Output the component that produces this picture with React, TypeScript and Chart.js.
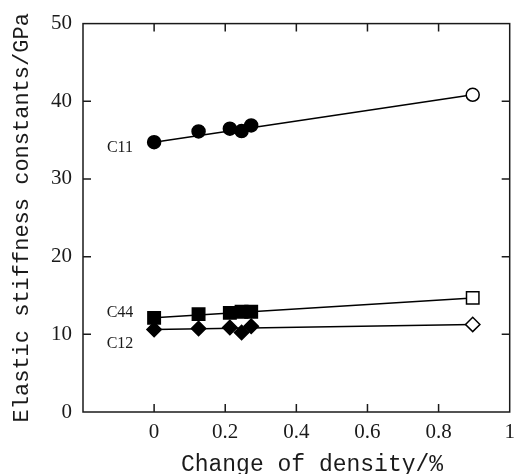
import React, { useEffect, useRef } from 'react';
import { Chart, registerables } from 'chart.js';
Chart.register(...registerables);

// Data
const densityChange = [0, 0.125, 0.213, 0.246, 0.273, 0.896];
const c11 = [34.74, 36.12, 36.47, 36.16, 36.89, 40.84];
const c44 = [12.12, 12.6, 12.76, 12.9, 12.9, 14.69];
const c12 = [10.63, 10.76, 10.89, 10.24, 11.05, 11.27];
const fitX = [0, 0.896];
const c11Fit = [34.74, 40.84];
const c44Fit = [12.12, 14.69];
const c12Fit = [10.63, 11.27];
const xTicks = [0, 0.2, 0.4, 0.6, 0.8, 1];
const yTicks = [0, 10, 20, 30, 40, 50];
const seriesLabels = ['C11', 'C44', 'C12'];
const labelAnchorX = -0.096;
const labelAnchorY = [34.06, 12.72, 8.78];
const xTitle = 'Change of density/%';
const yTitle = 'Elastic stiffness constants/GPa';

const MONO = '"Liberation Mono", "DejaVu Sans Mono", monospace';
const SERIF = '"Liberation Serif", "DejaVu Serif", serif';
const INK = '#1a1a1a';

const pts = (xs: number[], ys: number[]) => xs.map((x, i) => ({ x, y: ys[i] }));
const last = densityChange.length - 1;
const fill = (ctx: any) => (ctx.dataIndex === last ? '#ffffff' : '#000000');
const fmtX = (v: number) => String(Math.round(v * 10) / 10);

const framePlugin = {
  id: 'frame',
  afterDraw(chart: any) {
    const { ctx, chartArea: a, scales } = chart;
    const xs = scales.x;
    const ys = scales.y;
    ctx.save();
    ctx.strokeStyle = INK;
    ctx.lineWidth = 1.5;
    ctx.strokeRect(a.left, a.top, a.right - a.left, a.bottom - a.top);
    const tl = 8;
    ctx.beginPath();
    xTicks.forEach((v) => {
      const px = xs.getPixelForValue(v);
      if (px <= a.left + 1 || px >= a.right - 1) return;
      ctx.moveTo(px, a.bottom);
      ctx.lineTo(px, a.bottom - tl);
      ctx.moveTo(px, a.top);
      ctx.lineTo(px, a.top + tl);
    });
    yTicks.forEach((v) => {
      const py = ys.getPixelForValue(v);
      if (py <= a.top + 1 || py >= a.bottom - 1) return;
      ctx.moveTo(a.left, py);
      ctx.lineTo(a.left + tl, py);
      ctx.moveTo(a.right, py);
      ctx.lineTo(a.right - tl, py);
    });
    ctx.stroke();
    ctx.fillStyle = INK;
    // x tick labels
    ctx.font = `21px ${SERIF}`;
    ctx.textAlign = 'center';
    ctx.textBaseline = 'middle';
    xTicks.forEach((v) => {
      ctx.fillText(fmtX(v), xs.getPixelForValue(v), a.bottom + 20);
    });
    // series labels
    ctx.font = `16px ${SERIF}`;
    seriesLabels.forEach((t, i) => {
      ctx.fillText(t, xs.getPixelForValue(labelAnchorX), ys.getPixelForValue(labelAnchorY[i]));
    });
    // x axis title
    ctx.font = `23px ${MONO}`;
    ctx.textBaseline = 'alphabetic';
    ctx.fillText(xTitle, 312, 471);
    ctx.restore();
  },
};

export default function App() {
  const ref = useRef<HTMLCanvasElement | null>(null);
  useEffect(() => {
    if (!ref.current) return;
    const lineDs = (ys: number[]) => ({
      type: 'line' as const,
      data: pts(fitX, ys),
      showLine: true,
      borderColor: '#000',
      borderWidth: 1.5,
      pointRadius: 0,
      fill: false,
      order: 2,
    });
    const markDs = (label: string, ys: number[], style: string, r: number) => ({
      label,
      data: pts(densityChange, ys),
      showLine: false,
      pointStyle: style,
      pointRadius: r,
      pointBackgroundColor: fill,
      pointBorderColor: '#000',
      pointBorderWidth: 1.5,
      order: 1,
    });
    const chart = new Chart(ref.current, {
      type: 'scatter',
      data: {
        datasets: [
          lineDs(c11Fit),
          lineDs(c44Fit),
          lineDs(c12Fit),
          markDs('C11', c11, 'circle', 6.5),
          markDs('C44', c44, 'rect', 8.8),
          markDs('C12', c12, 'rectRot', 7.2),
        ] as any,
      },
      options: {
        animation: false,
        responsive: false,
        devicePixelRatio: 1,
        layout: { padding: { left: 0, top: 23, right: 5, bottom: 0 } },
        plugins: { legend: { display: false }, tooltip: { enabled: false } },
        scales: {
          x: {
            type: 'linear',
            min: -0.2,
            max: 1,
            afterBuildTicks: (s: any) => {
              s.ticks = xTicks.map((v) => ({ value: v }));
            },
            afterFit: (s: any) => {
              s.height = 62;
            },
            grid: { display: false, drawTicks: false },
            border: { display: false },
            ticks: { display: false },
          },
          y: {
            type: 'linear',
            min: 0,
            max: 50,
            afterBuildTicks: (s: any) => {
              s.ticks = yTicks.map((v) => ({ value: v }));
            },
            afterFit: (s: any) => {
              s.width = 83;
            },
            grid: { display: false, drawTicks: false },
            border: { display: false },
            ticks: {
              padding: 11,
              color: INK,
              font: { family: SERIF, size: 21 },
            },
            title: {
              display: true,
              text: yTitle,
              color: INK,
              font: { family: MONO, size: 22 },
              padding: { top: 9, bottom: 0 },
            },
          },
        },
      },
      plugins: [framePlugin],
    });
    return () => chart.destroy();
  }, []);
  return (
    <div style={{ position: 'fixed', left: 0, top: 0, width: 520, height: 474, background: '#fff' }}>
      <canvas ref={ref} width={520} height={474} style={{ display: 'block' }} />
    </div>
  );
}
